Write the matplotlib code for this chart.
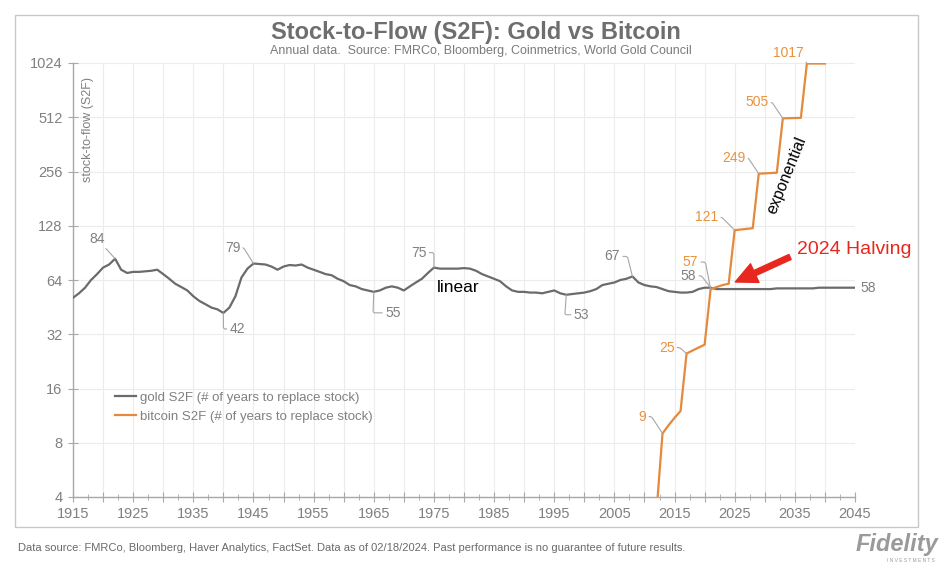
import matplotlib
matplotlib.use('Agg')
import matplotlib.pyplot as plt
from matplotlib.patches import Rectangle
from matplotlib.ticker import MultipleLocator, NullLocator, FuncFormatter

# gold stock-to-flow, annual 1915-2045
goldYears = list(range(1915, 2046))
goldS2F = [51, 54, 58, 64, 69, 75, 78, 84, 73, 70,
           71, 71, 71.5, 72, 73, 69, 65, 61, 58.5, 56,
           52, 49, 47, 45, 44, 42, 45, 52, 66, 74,
           79, 78.5, 78, 76, 73, 76, 77.5, 77, 78, 75,
           73, 71, 69, 68, 65, 63, 60, 59, 57, 56,
           55, 56, 58, 59, 58, 56, 59, 62, 65, 70,
           75, 74, 74, 74, 74, 74.5, 74, 72, 69, 67,
           65, 63, 59, 56, 55, 55, 54.5, 54.5, 54, 55,
           56, 54, 53, 53.5, 54, 54.5, 55.5, 57, 60, 61,
           62, 64, 65, 67, 62, 60, 59, 58.5, 57, 55.5,
           55, 54.5, 54.5, 55, 57, 58, 58, 57, 57, 57,
           57, 57, 57, 57, 57, 57, 57, 57.5, 57.5, 57.5,
           57.5, 57.5, 57.5, 57.5, 58, 58, 58, 58, 58, 58,
           58]

# bitcoin stock-to-flow, annual 2012-2040
btcYears = list(range(2012, 2041))
btcS2F = [3.3, 9, 10, 11, 12, 25, 26, 27, 28, 57,
          58.5, 60, 61, 121, 122, 123, 124, 249, 250, 251,
          252, 505, 506, 507, 508, 1017, 1017, 1017, 1017]

yTicks = [4, 8, 16, 32, 64, 128, 256, 512, 1024]

# labelled points: (year, value, text)
goldLabels = [(1922, 84, '84'), (1945, 79, '79'), (1940, 42, '42'), (1965, 55, '55'),
              (1975, 75, '75'), (1997, 53, '53'), (2008, 67, '67'), (2021, 58, '58')]
btcLabels = [(2013, 9, '9'), (2017, 25, '25'), (2021, 57, '57'), (2025, 121, '121'),
             (2029, 249, '249'), (2033, 505, '505'), (2037, 1017, '1017')]

GOLD = '#6b6b6b'
BTC = '#e5893c'
BTC_TXT = '#e8923f'
GREYTXT = '#808080'
LEAD = '#a6a6a6'
RED = '#e8281e'
plt.rcParams['font.family'] = ['Liberation Sans', 'DejaVu Sans']

fig = plt.figure(figsize=(9.52, 5.73), dpi=100)
fig.patch.set_facecolor('white')
ax = fig.add_axes([73/952, 1-497/573, 782/952, 434/573])

ax.plot(goldYears, goldS2F, color=GOLD, lw=1.6, label='gold S2F (# of years to replace stock)', zorder=3)
ax.plot(btcYears, btcS2F, color=BTC, lw=1.6, label='bitcoin S2F (# of years to replace stock)', zorder=3)

ax.set_yscale('log', base=2)
ax.set_ylim(4, 1024)
ax.set_xlim(1915, 2045)
ax.set_yticks(yTicks)
ax.set_yticklabels([str(t) for t in yTicks])
ax.yaxis.set_minor_locator(NullLocator())
ax.xaxis.set_major_locator(MultipleLocator(5))
ax.xaxis.set_minor_locator(MultipleLocator(2.5))
ax.xaxis.set_major_formatter(FuncFormatter(lambda v, p: '%d' % v if int(round(v - 1915)) % 10 == 0 else ''))

ax.grid(True, which='major', color='#ececec', lw=0.8, zorder=0)
for s in ['top', 'right']:
    ax.spines[s].set_visible(False)
for s in ['left', 'bottom']:
    ax.spines[s].set_color('#a8a8a8')
    ax.spines[s].set_linewidth(1.0)
ax.tick_params(axis='both', which='major', direction='inout', length=7, color='#a8a8a8',
               labelcolor=GREYTXT, labelsize=10.5, pad=4)
ax.tick_params(axis='x', which='minor', direction='inout', length=4, color='#a8a8a8')

# label offsets in pixels (dx, dy) and leader angle at the point
goldOff = {'84': (-18, 20, None), '79': (-21, 16, 122), '42': (14, -16, 90), '55': (19, -21, 88),
           '75': (-15, 15, 90), '53': (15, -20, 86), '67': (-20, 20, 104), '58': (-22, 12, 128)}
btcOff = {'9': (-20, 17, 123), '25': (-20, 6, 139), '57': (-20, 27, 101), '121': (-28, 13, 135),
          '249': (-25, 16, 124), '505': (-26, 16, 124), '1017': (-19, 11, 122)}

def put_label(x, y, txt, off, color):
    dx, dy, angB = off
    if angB is None:
        cs = 'arc3'
    else:
        cs = 'angle,angleA=0,angleB=%d,rad=2' % angB
    ax.annotate(txt, xy=(x, y), xytext=(dx*0.72, dy*0.72), textcoords='offset points',
                ha='center', va='center', fontsize=10, color=color, zorder=5,
                arrowprops=dict(arrowstyle='-', color=LEAD, lw=0.8, shrinkA=0, shrinkB=0,
                                connectionstyle=cs))

for x, y, t in goldLabels:
    put_label(x, y, t, goldOff[t], GREYTXT)
for x, y, t in btcLabels:
    put_label(x, y, t, btcOff[t], BTC_TXT)

ax.annotate('58', xy=(goldYears[-1], goldS2F[-1]), xytext=(4, 0), textcoords='offset points',
            ha='left', va='center', fontsize=10, color=GREYTXT, annotation_clip=False)

ax.text(1979, 58.5, 'linear', fontsize=12.5, color='black', ha='center', va='center', zorder=5)
ax.text(2033.7, 245, 'exponential', fontsize=11.5, color='black', ha='center', va='center',
        rotation=68, zorder=5)
ax.text(2035.4, 94, '2024 Halving', fontsize=14, color=RED, ha='left', va='center', zorder=5)
ax.annotate('', xy=(2025.1, 62.4), xytext=(2034.2, 85.9),
            arrowprops=dict(arrowstyle='simple,head_length=1.1,head_width=1.05,tail_width=0.28',
                            fc=RED, ec=RED, mutation_scale=14, shrinkA=0, shrinkB=0), zorder=6)

ax.text(0.019, 0.846, 'stock-to-flow (S2F)', transform=ax.transAxes, rotation=90,
        ha='center', va='center', fontsize=9, color=GREYTXT)

leg = ax.legend(loc='center left', bbox_to_anchor=(0.054, 0.207), frameon=False,
                fontsize=9.5, handlelength=1.6, handletextpad=0.3, labelspacing=0.55,
                borderpad=0, borderaxespad=0)
for t in leg.get_texts():
    t.set_color(GREYTXT)

fig.text(0.5, 1-32/573, 'Stock-to-Flow (S2F): Gold vs Bitcoin', ha='center', va='center',
         fontsize=17, fontweight='bold', color='#6e6e6e')
fig.text(0.505, 1-51/573, 'Annual data.  Source: FMRCo, Bloomberg, Coinmetrics, World Gold Council',
         ha='center', va='center', fontsize=9, color='#7a7a7a')

fig.patches.append(Rectangle((15/952, 1-527/573), 903/952, 512/573, transform=fig.transFigure,
                             fill=False, ec='#c8c8c8', lw=1.0))

fig.text(18/952, 1-548/573, 'Data source: FMRCo, Bloomberg, Haver Analytics, FactSet. Data as of 02/18/2024. '
         'Past performance is no guarantee of future results.', ha='left', va='center',
         fontsize=8, color='#6a6a6a')
fig.text(938/952, 1-545/573, 'Fidelity', ha='right', va='center', fontsize=17,
         fontweight='bold', style='italic', color='#9a9a9a')
fig.text(935/952, 1-561/573, 'I N V E S T M E N T S', ha='right', va='center', fontsize=3.5,
         color='#9a9a9a')

fig.savefig('out.png', dpi=100)
